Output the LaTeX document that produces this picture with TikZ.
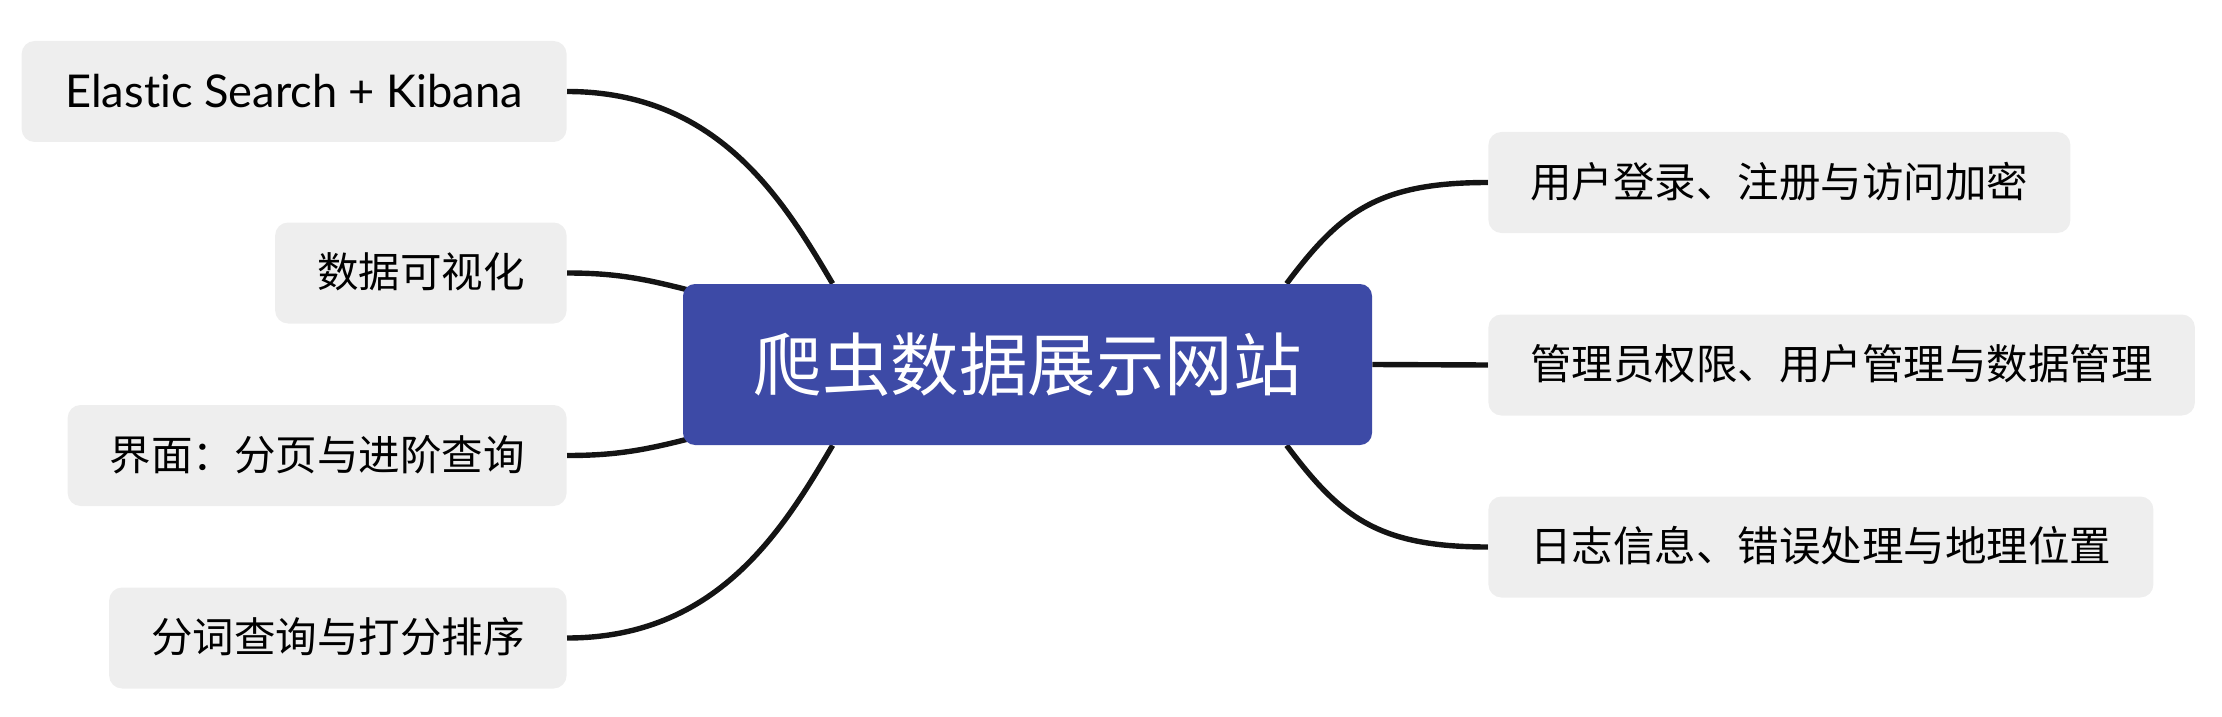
\documentclass[tikz,border=0pt]{standalone}
\usepackage{fontspec, tikz}
\setmainfont{Noto Sans CJK SC}
\newfontfamily\latinfont{Lato}[Ligatures=NoCommon]
\usetikzlibrary{calc, backgrounds}
\definecolor{hubblue}{RGB}{61,74,166}
\definecolor{leafgray}{RGB}{238,238,238}
\definecolor{linkblack}{RGB}{20,20,20}

\begin{document}
\begin{tikzpicture}[x=0.5pt, y=-0.5pt,
    hub/.style={fill=hubblue, rounded corners=6pt, minimum width=344.5pt, minimum height=80.5pt,
        inner sep=0pt, text=white, font=\fontsize{34.25}{40}\selectfont},
    leaf/.style={fill=leafgray, rounded corners=6.5pt, minimum height=50.5pt, inner xsep=21pt,
        inner ysep=0pt, text height=17.4pt, text depth=2.5pt, font=\fontsize{20.75}{24}\selectfont},
    link/.style={draw=linkblack, line width=2.7pt}]
        \useasboundingbox (0,0) rectangle (2222,717);
        \node[hub] (hub) at (1027.5,364.5) {爬虫数据展示网站};
        % left side
        \node[leaf, anchor=east, minimum width=272.5pt, text height=16.2pt, text depth=0pt,
            font=\latinfont\fontsize{22.6}{26}\selectfont] (es) at (567,91.5) {Elastic Search + Kibana};
        \node[leaf, anchor=east] (vis) at (567,273) {数据可视化};
        \node[leaf, anchor=east] (ui) at (567,455.5) {界面：分页与进阶查询};
        \node[leaf, anchor=east] (rank) at (567,638) {分词查询与打分排序};
        % right side
        \node[leaf, anchor=west] (login) at (1488,182.5) {用户登录、注册与访问加密};
        \node[leaf, anchor=west] (admin) at (1488,365) {管理员权限、用户管理与数据管理};
        \node[leaf, anchor=west] (log) at (1488,547) {日志信息、错误处理与地理位置};
        \begin{scope}[on background layer]
            \draw[link] (es.east) .. controls +(150,0) and +(-50,-85) .. ($(hub.north west)+(150,0)$);
            \draw[link] (vis.east) .. controls +(53,0) and +(-60,-16) .. ($(hub.north west)+(27,12)$);
            \draw[link] (ui.east) .. controls +(53,0) and +(-60,16) .. ($(hub.south west)+(27,-12)$);
            \draw[link] (rank.east) .. controls +(150,0) and +(-50,85) .. ($(hub.south west)+(150,0)$);
            \draw[link] ($(hub.north west)+(604,0)$) .. controls +(54,-72) and +(-110,0) .. (login.west);
            \draw[link] (hub.east) -- (admin.west);
            \draw[link] ($(hub.south west)+(604,0)$) .. controls +(54,72) and +(-110,0) .. (log.west);
        \end{scope}
\end{tikzpicture}
\end{document}
